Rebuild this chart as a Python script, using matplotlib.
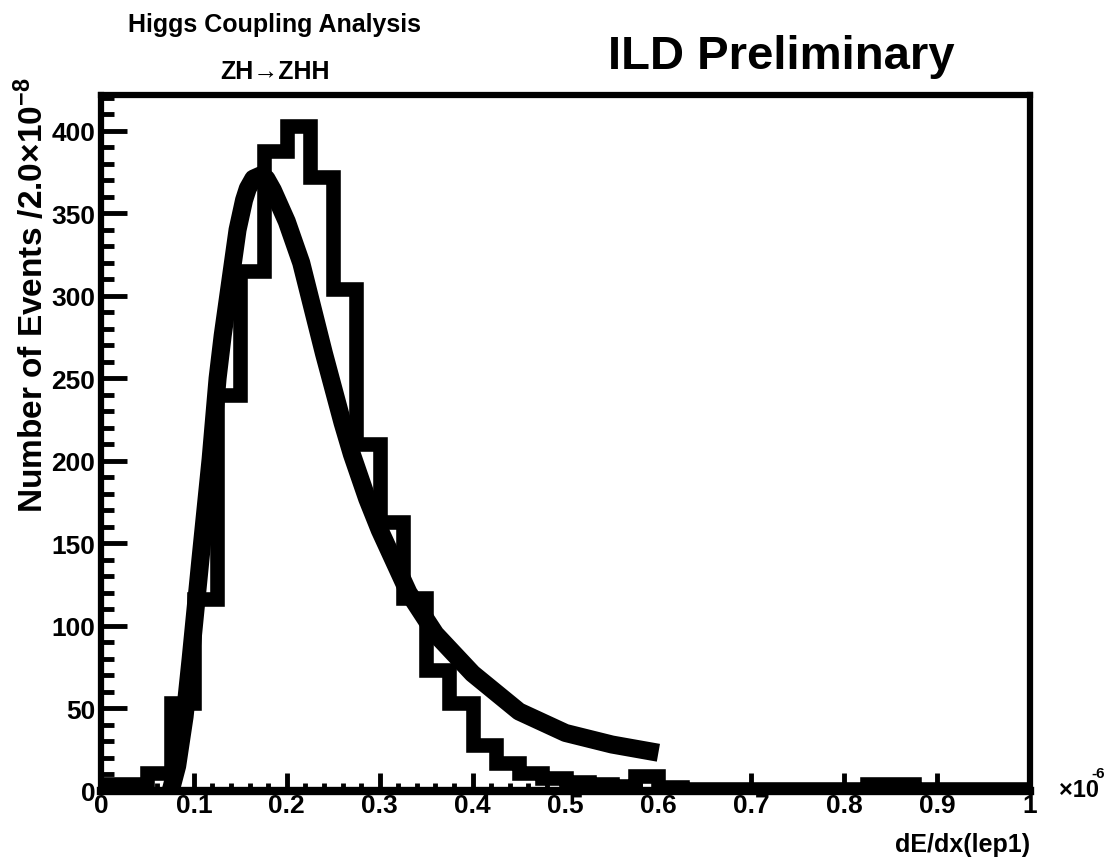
import matplotlib
matplotlib.use("Agg")
import matplotlib.pyplot as plt
import numpy as np
from matplotlib.ticker import MultipleLocator, FixedLocator

plt.rcParams['font.family'] = ['Liberation Sans', 'DejaVu Sans']
plt.rcParams['font.weight'] = 'bold'
plt.rcParams['mathtext.fontset'] = 'custom'
plt.rcParams['mathtext.rm'] = 'Liberation Sans:bold'
plt.rcParams['mathtext.bf'] = 'Liberation Sans:bold'
plt.rcParams['mathtext.default'] = 'rm'

# ---- data (x in units of 1e-6) ----
bin_edges = np.linspace(0.0, 1.0, 41)
counts = [4, 4, 11, 53, 116, 240, 315, 388, 403, 372,
          304, 210, 163, 117, 73, 53, 28, 17, 11, 8,
          5, 4, 3, 9, 2, 1, 1, 1, 1, 1,
          1, 1, 1, 4, 4, 1, 1, 1, 1, 1]

fit_x = [0.075, 0.082, 0.09, 0.0965, 0.107, 0.118, 0.1255, 0.131, 0.14, 0.147,
         0.154, 0.158, 0.164, 0.172, 0.178, 0.185, 0.2, 0.2155, 0.24, 0.26,
         0.27, 0.2865, 0.3, 0.331, 0.36, 0.4, 0.45, 0.5, 0.55, 0.6]
fit_y = [0, 15, 45, 80, 140, 201, 250, 276, 312, 340,
         358, 365, 371, 373, 371, 364, 345, 320, 265, 223,
         204, 177, 158, 120, 95, 71, 48, 35, 28, 23]

x_ticks = [0, 0.1, 0.2, 0.3, 0.4, 0.5, 0.6, 0.7, 0.8, 0.9, 1.0]
x_ticklabels = ["0", "0.1", "0.2", "0.3", "0.4", "0.5", "0.6", "0.7", "0.8", "0.9", "1"]
y_ticks = [0, 50, 100, 150, 200, 250, 300, 350, 400]
y_ticklabels = ["0", "50", "100", "150", "200", "250", "300", "350", "400"]

W, H = 1106, 862
fig = plt.figure(figsize=(W / 100, H / 100), dpi=100)
ax_left, ax_right = 101 / W, 1030 / W
ax_bottom, ax_top = (H - 791.7) / H, (H - 95.5) / H
ax = fig.add_axes([ax_left, ax_bottom, ax_right - ax_left, ax_top - ax_bottom])

ax.stairs(counts, bin_edges, color='black', linewidth=10.5, baseline=None)
ax.plot(fit_x, fit_y, color='black', linewidth=13, solid_capstyle='butt',
        solid_joinstyle='round')

ax.set_xlim(0, 1)
ax.set_ylim(0, 422)

for side in ['left', 'right', 'top', 'bottom']:
    ax.spines[side].set_linewidth(4.5)
    ax.spines[side].set_color('black')
ax.spines['bottom'].set_linewidth(6)

ax.xaxis.set_major_locator(FixedLocator(x_ticks))
ax.set_xticklabels(x_ticklabels)
ax.xaxis.set_minor_locator(MultipleLocator(0.02))
ax.yaxis.set_major_locator(FixedLocator(y_ticks))
ax.set_yticklabels(y_ticklabels)
ax.yaxis.set_minor_locator(MultipleLocator(10))

ax.tick_params(axis='x', which='major', direction='in', length=13, width=3.5,
               labelsize=19, pad=2, top=False)
ax.tick_params(axis='x', which='minor', direction='in', length=6, width=3.5, top=False)
ax.tick_params(axis='y', which='major', direction='in', length=19, width=3.5,
               labelsize=19, pad=4, right=False)
ax.tick_params(axis='y', which='minor', direction='in', length=9, width=3.5, right=False)
for lab in ax.get_xticklabels() + ax.get_yticklabels():
    lab.set_fontweight('bold')

# x axis title and exponent
fig.text(1030 / W, 1 - 845 / H, "dE/dx(lep1)", ha='right', va='center',
         fontsize=18, fontweight='bold')
fig.text(1059 / W, 1 - 791 / H, "\u00d710", ha='left', va='center',
         fontsize=17, fontweight='bold')
fig.text(1105 / W, 1 - 774 / H, "-6", ha='right', va='center',
         fontsize=11, fontweight='bold')

# y axis title
fig.text(32 / W, 1 - 78 / H, r"Number of Events /2.0$\times$10$^{-8}$",
         rotation=90, ha='center', va='top', fontsize=24, fontweight='bold')

# header texts
fig.text(275 / W, 1 - 25 / H, "Higgs Coupling Analysis", ha='center', va='center',
         fontsize=18, fontweight='bold')
fig.text(275 / W, 1 - 72 / H, "ZH\u2192ZHH", ha='center', va='center',
         fontsize=18, fontweight='bold')
fig.text(781 / W, 1 - 57 / H, "ILD Preliminary", ha='center', va='center',
         fontsize=34, fontweight='bold')

fig.savefig("out.png", dpi=100)
